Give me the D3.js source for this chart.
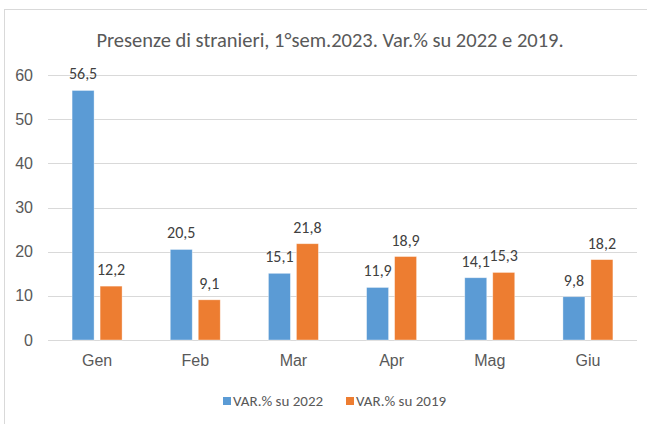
<!DOCTYPE html>
<html>
<head>
<meta charset="utf-8">
<script src="https://cdn.jsdelivr.net/npm/d3@7"></script>
<style>
  html, body { margin: 0; padding: 0; background: #fff; }
  svg { display: block; font-family: Carlito, Calibri, "Liberation Sans", sans-serif; }
</style>
</head>
<body>
<div id="chart"></div>
<script>
// data
const months = ['Gen', 'Feb', 'Mar', 'Apr', 'Mag', 'Giu'];
const var2022 = [56.5, 20.5, 15.1, 11.9, 14.1, 9.8];
const var2019 = [12.2, 9.1, 21.8, 18.9, 15.3, 18.2];
const seriesNames = ['VAR.% su 2022', 'VAR.% su 2019'];
const yTicks = [0, 10, 20, 30, 40, 50, 60];

const colors = ['#5b9bd5', '#ed7d31'];
const width = 647, height = 424;
const margin = { top: 75, right: 10, bottom: 84, left: 48 };

const svg = d3.select('#chart').append('svg')
  .attr('width', width)
  .attr('height', height);

// chart frame (runs off the right / bottom edge like the screenshot)
svg.append('rect')
  .attr('x', 4.5).attr('y', 9.5)
  .attr('width', 700).attr('height', 500)
  .attr('fill', '#fff')
  .attr('stroke', '#d9d9d9');

svg.append('text')
  .attr('x', 330).attr('y', 47)
  .attr('text-anchor', 'middle')
  .attr('font-size', 20.5)
  .attr('fill', '#595959')
  .text('Presenze di stranieri, 1°sem.2023. Var.% su 2022 e 2019.');

const x = d3.scaleBand()
  .domain(months)
  .range([margin.left, width - margin.right])
  .padding(0);

const x1 = d3.scaleBand()
  .domain([0, 1])
  .range([x.bandwidth() / 2 - 25, x.bandwidth() / 2 + 25])
  .paddingInner(0.2143);

const y = d3.scaleLinear()
  .domain([0, 60])
  .range([height - margin.bottom, margin.top]);

// gridlines
svg.append('g')
  .selectAll('line')
  .data(yTicks)
  .enter()
  .append('line')
  .attr('x1', margin.left)
  .attr('x2', width - margin.right)
  .attr('y1', d => Math.round(y(d)) + 0.5)
  .attr('y2', d => Math.round(y(d)) + 0.5)
  .attr('stroke', '#d9d9d9')
  .attr('stroke-width', 1);

// y axis labels
const yAxis = svg.append('g')
  .attr('transform', `translate(${margin.left - 15},0)`)
  .call(d3.axisLeft(y).tickValues(yTicks).tickSize(0).tickPadding(0));
yAxis.select('.domain').remove();
yAxis.selectAll('text')
  .attr('font-size', 16)
  .attr('font-family', null)
  .attr('fill', '#595959');

// x axis labels
const xAxis = svg.append('g')
  .attr('transform', `translate(0,${height - margin.bottom})`)
  .call(d3.axisBottom(x).tickSize(0).tickPadding(15));
xAxis.select('.domain').remove();
xAxis.selectAll('text')
  .attr('font-size', 16)
  .attr('font-family', null)
  .attr('fill', '#595959');

const series = [var2022, var2019];
const rows = [];
series.forEach((vals, s) => {
  vals.forEach((v, i) => rows.push({ month: months[i], s, v }));
});

// bars
svg.append('g')
  .selectAll('rect')
  .data(rows)
  .enter()
  .append('rect')
  .attr('x', d => x(d.month) + x1(d.s))
  .attr('y', d => y(d.v))
  .attr('width', x1.bandwidth())
  .attr('height', d => y(0) - y(d.v))
  .attr('fill', d => colors[d.s])
  .attr('stroke', '#fff')
  .attr('stroke-opacity', 0.5)
  .attr('stroke-width', 0.75);

// data labels
svg.append('g')
  .selectAll('text')
  .data(rows)
  .enter()
  .append('text')
  .attr('x', d => x(d.month) + x1(d.s) + x1.bandwidth() / 2)
  .attr('y', d => y(d.v) - 11)
  .attr('text-anchor', 'middle')
  .attr('font-size', 16)
  .attr('fill', '#404040')
  .text(d => d3.format('.1f')(d.v).replace('.', ','));

// legend
const legend = svg.append('g');
const legendX = [223, 346];
seriesNames.forEach((name, i) => {
  legend.append('rect')
    .attr('x', legendX[i]).attr('y', 397)
    .attr('width', 8).attr('height', 8)
    .attr('fill', colors[i]);
  legend.append('text')
    .attr('x', legendX[i] + 10).attr('y', 406)
    .attr('font-size', 15)
    .attr('fill', '#595959')
    .text(name);
});
</script>
</body>
</html>
